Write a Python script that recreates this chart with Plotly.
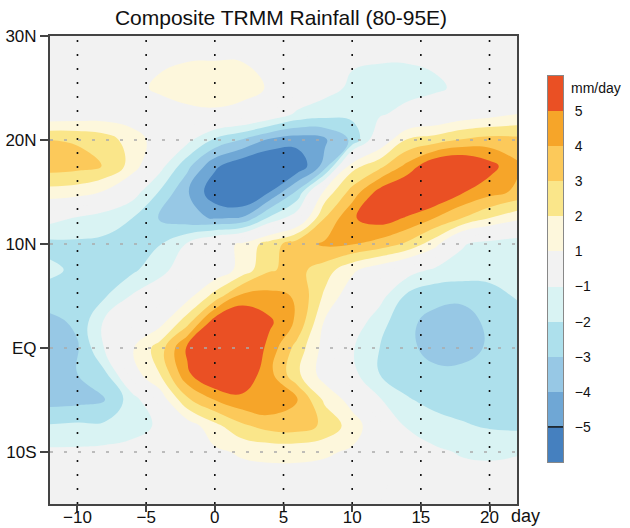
import plotly.graph_objects as go

# ---------------- data ----------------
days = [-12, -10, -8, -6, -4, -2, 0, 2, 4, 6, 8, 10, 12, 14, 16, 18, 20, 22]
lats = [-15, -12.5, -10, -7.5, -5, -2.5, 0, 2.5, 5, 7.5, 10, 12.5, 15, 17.5, 20, 22.5, 25, 27.5, 30]

# rainfall anomaly (mm/day); rows follow lats (south -> north), columns follow days
rain_anom = [
    [0.0, 0.0, 0.0, 0.0, 0.0, 0.1, 0.2, 0.3, 0.3, 0.3, 0.3, 0.2, 0.0, -0.1, -0.2, -0.3, -0.3, -0.3],
    [-0.3, -0.3, -0.2, -0.1, 0.0, 0.2, 0.4, 0.55, 0.65, 0.65, 0.55, 0.4, 0.1, -0.2, -0.4, -0.6, -0.6, -0.5],
    [-0.8, -0.8, -0.7, -0.5, -0.2, 0.3, 0.8, 1.15, 1.25, 1.25, 1.15, 0.85, 0.1, -0.4, -0.8, -1.1, -1.2, -1.1],
    [-1.9, -1.8, -1.8, -1.5, -0.8, 0.4, 1.7, 2.8, 3.4, 3.5, 2.8, 1.5, 0.2, -1.1, -1.6, -1.9, -2.1, -2.2],
    [-3.4, -3.3, -3.0, -1.5, 0.3, 2.8, 4.0, 4.7, 4.8, 4.1, 1.8, 0.6, -0.9, -1.9, -2.3, -2.4, -2.4, -2.3],
    [-3.6, -3.0, -2.2, 0.5, 2.0, 4.8, 6.3, 5.9, 4.3, 2.2, 0.5, -0.7, -2.0, -2.5, -2.8, -2.8, -2.7, -2.6],
    [-3.5, -3.1, -0.9, 0.9, 2.5, 5.2, 6.5, 6.6, 4.6, 2.6, 0.6, -0.9, -2.0, -2.8, -3.3, -3.3, -2.9, -2.6],
    [-3.3, -2.8, -0.8, -0.2, 0.6, 2.6, 5.6, 6.2, 5.2, 3.8, 0.9, -0.3, -1.6, -2.8, -3.3, -3.4, -2.8, -2.5],
    [-2.4, -2.4, -2.1, -0.9, -0.3, 0.6, 2.4, 4.3, 4.3, 3.9, 1.8, 0.3, -0.6, -2.2, -2.7, -2.8, -2.4, -1.9],
    [-1.8, -2.2, -2.3, -2.2, -1.3, -0.4, 0.2, 1.4, 2.9, 3.3, 2.5, 1.2, 0.3, -0.5, -1.2, -1.4, -1.6, -1.8],
    [-2.3, -2.2, -2.2, -2.1, -2.05, -0.9, 0.4, 1.2, 2.5, 3.6, 4.15, 4.05, 3.6, 2.8, 1.4, -0.9, -1.4, -1.7],
    [-0.6, -1.1, -1.6, -2.0, -3.1, -3.7, -4.1, -3.9, -1.8, -0.3, 3.0, 4.9, 5.5, 4.9, 4.0, 3.0, 2.0, 1.3],
    [1.6, 1.45, 0.9, -0.5, -2.1, -3.9, -5.7, -6.4, -5.0, -2.8, 1.3, 3.4, 5.4, 6.3, 6.2, 5.1, 4.4, 3.8],
    [3.5, 3.35, 2.95, 1.6, -0.6, -2.7, -4.8, -5.8, -6.3, -5.8, -3.6, 1.6, 2.7, 4.3, 6.0, 6.4, 5.4, 4.2],
    [3.0, 2.9, 2.5, 1.5, 0.5, -0.7, -2.2, -3.1, -4.2, -4.6, -4.2, -2.8, 0.1, 2.1, 2.5, 3.1, 3.4, 3.3],
    [0.2, 0.3, 0.4, 0.4, 0.4, 0.7, 0.8, 0.6, -0.1, -1.2, -1.6, -1.7, -1.15, -0.6, -0.2, 0.3, 0.6, 1.0],
    [0.3, 0.4, 0.5, 0.7, 1.2, 1.5, 1.6, 1.4, 0.9, 0.1, -0.6, -1.2, -1.4, -1.45, -1.2, -0.75, -0.4, -0.2],
    [0.3, 0.3, 0.3, 0.5, 0.85, 1.0, 1.02, 1.0, 0.95, 0.3, -0.5, -0.9, -0.97, -0.97, -0.85, -0.55, -0.3, 0.0],
    [0.2, 0.2, 0.3, 0.3, 0.5, 0.6, 0.6, 0.5, 0.4, 0.1, -0.2, -0.4, -0.5, -0.5, -0.4, -0.3, -0.1, 0.1],
]

# colour bands: <-5, -5..-4, -4..-3, -3..-2, -2..-1, -1..1, 1..2, 2..3, 3..4, 4..5, >5
band_colors = ["#4580BF", "#6FA7D5", "#97C8E5", "#ADE0EC", "#D9F3F3", "#F2F2F2",
               "#FDF7DC", "#FAE68A", "#FCC95A", "#F6A529", "#EA5024"]
level_labels = ["\u22125", "\u22124", "\u22123", "\u22122", "\u22121", "1", "2", "3", "4", "5"]
unit_label = "mm/day"

x_tick_vals = [-10, -5, 0, 5, 10, 15, 20]
x_tick_text = ["\u221210", "\u22125", "0", "5", "10", "15", "20"]
y_tick_vals = [-10, 0, 10, 20, 30]
y_tick_text = ["10S", "EQ", "10N", "20N", "30N"]
grid_lats = [-10, 0, 10, 20]

title_text = "Composite TRMM Rainfall (80-95E)"
x_unit = "day"

# ---------------- layout geometry (pixels) ----------------
W, H = 630, 528
ML, MR, MT, MB = 50, 10, 36, 24
PW = W - ML - MR
PH = H - MT - MB


def px_x(p):
    return (p - ML) / PW


def px_y(p):
    return (H - MB - p) / PH


FONT = "Liberation Sans, Arial, Helvetica, sans-serif"

# contour fill colorscale: regions below -5, between levels -5..5 (step 1), above 5
region_colors = band_colors[:5] + [band_colors[5], band_colors[5]] + band_colors[6:]
n_reg = len(region_colors)
contour_cs = []
for i, c in enumerate(region_colors):
    lo = max(0.0, (i - 0.5) / (n_reg - 1))
    hi = min(1.0, (i + 0.5) / (n_reg - 1))
    contour_cs.append([lo, c])
    contour_cs.append([hi, c])

# colorbar heatmap colorscale
n_b = len(band_colors)
bar_cs = []
for i, c in enumerate(band_colors):
    bar_cs.append([i / n_b, c])
    bar_cs.append([(i + 1) / n_b, c])

fig = go.Figure()

fig.add_trace(go.Contour(
    x=days, y=lats, z=rain_anom,
    contours=dict(start=-5, end=5, size=1, coloring="fill", showlines=False),
    line=dict(width=0, smoothing=1.2),
    colorscale=contour_cs, showscale=False, hoverinfo="skip",
))

fig.add_trace(go.Heatmap(
    x=[0], y=list(range(n_b)), z=[[i] for i in range(n_b)],
    colorscale=bar_cs, zmin=-0.5, zmax=n_b - 0.5, showscale=False,
    xaxis="x2", yaxis="y2", hoverinfo="skip",
))

shapes = []
# vertical dotted grid lines
for xv in x_tick_vals:
    shapes.append(dict(type="line", xref="x", yref="y domain", x0=xv, x1=xv, y0=0, y1=1,
                       line=dict(color="#111111", width=1.6, dash="2px,12px"), layer="above"))
# horizontal grey dashed grid lines
for yv in grid_lats:
    shapes.append(dict(type="line", xref="x domain", yref="y", x0=0, x1=1, y0=yv, y1=yv,
                       line=dict(color="#AAAAAA", width=1.3, dash="3px,11px"), layer="above"))
# black line at -5 on colour bar
shapes.append(dict(type="line", xref="x2 domain", yref="y2", x0=0, x1=1, y0=0.5, y1=0.5,
                   line=dict(color="#111111", width=1.5), layer="above"))

annotations = [
    dict(text=unit_label, xref="paper", yref="paper", x=px_x(569), y=px_y(88),
         xanchor="left", yanchor="middle", showarrow=False, font=dict(size=14, color="#111", family=FONT)),
    dict(text=x_unit, xref="paper", yref="paper", x=px_x(509), y=px_y(516),
         xanchor="left", yanchor="middle", showarrow=False, font=dict(size=18, color="#111", family=FONT)),
]

fig.update_layout(
    width=W, height=H,
    margin=dict(l=ML, r=MR, t=MT, b=MB, pad=0, autoexpand=False),
    paper_bgcolor="white", plot_bgcolor="#F2F2F2",
    font=dict(family=FONT, color="#111"),
    title=dict(text=title_text, xref="paper", x=px_x(281), xanchor="center",
               yref="container", y=1 - 18 / H, yanchor="middle",
               font=dict(size=21, color="#111", family=FONT)),
    xaxis=dict(domain=[0, px_x(517)], range=[-12, 22], tickvals=x_tick_vals, ticktext=x_tick_text,
               ticks="outside", ticklen=6, tickwidth=1.5, tickcolor="#444", automargin=False,
               ticklabelstandoff=-9,
               showline=True, linewidth=2, linecolor="#444", mirror=True,
               showgrid=False, zeroline=False, tickfont=dict(size=17), layer="above traces"),
    yaxis=dict(domain=[0, 1], range=[-15, 30], tickvals=y_tick_vals, ticktext=y_tick_text,
               ticks="outside", ticklen=8, tickwidth=1.5, tickcolor="#444", automargin=False,
               showline=True, linewidth=2, linecolor="#444", mirror=True,
               showgrid=False, zeroline=False, tickfont=dict(size=17), layer="above traces"),
    xaxis2=dict(domain=[px_x(548), px_x(563)], range=[-0.5, 0.5], anchor="y2", automargin=False,
                showticklabels=False, ticks="", showgrid=False, zeroline=False,
                showline=True, linewidth=1, linecolor="#888", mirror=True),
    yaxis2=dict(domain=[px_y(462), px_y(76)], range=[-0.5, n_b - 0.5], anchor="x2", side="right",
                tickvals=[i + 0.5 for i in range(len(level_labels))], ticktext=level_labels,
                ticks="outside", ticklen=8, tickcolor="rgba(0,0,0,0)", automargin=False,
                showgrid=False, zeroline=False, tickfont=dict(size=14),
                showline=True, linewidth=1, linecolor="#888", mirror=True),
    shapes=shapes, annotations=annotations,
)

fig.write_html("out.html")
